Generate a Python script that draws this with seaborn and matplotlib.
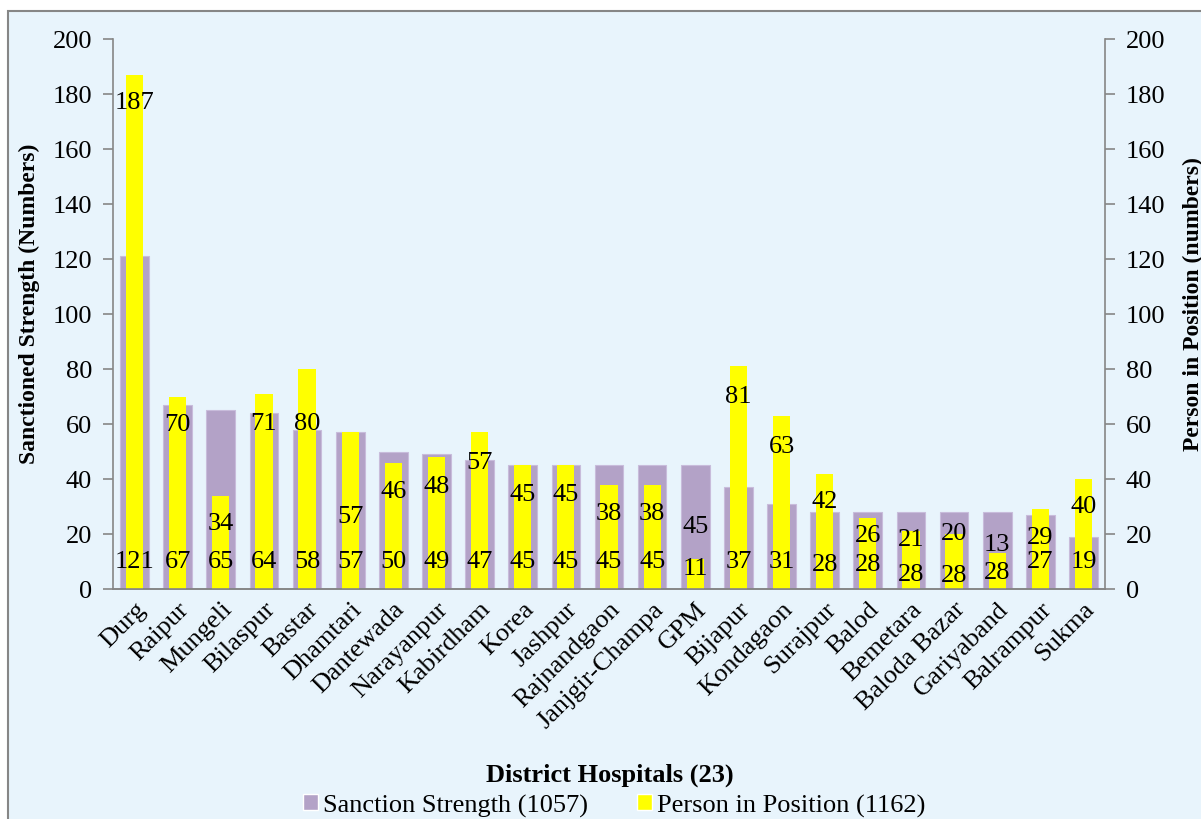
import matplotlib
matplotlib.use('Agg')
import matplotlib.pyplot as plt
from matplotlib.patches import Rectangle, Patch
from matplotlib.ticker import FixedLocator
import numpy as np
import pandas as pd
import seaborn as sns

# dados
districts = ["Durg", "Raipur", "Mungeli", "Bilaspur", "Bastar", "Dhamtari", "Dantewada",
             "Narayanpur", "Kabirdham", "Korea", "Jashpur", "Rajnandgaon", "Janjgir-Champa",
             "GPM", "Bijapur", "Kondagaon", "Surajpur", "Balod", "Bemetara", "Baloda Bazar",
             "Gariyaband", "Balrampur", "Sukma"]
sanction = [121, 67, 65, 64, 58, 57, 50, 49, 47, 45, 45, 45, 45, 45, 37, 31, 28, 28, 28, 28, 28, 27, 19]
in_position = [187, 70, 34, 71, 80, 57, 46, 48, 57, 45, 45, 38, 38, 11, 81, 63, 42, 26, 21, 20, 13, 29, 40]

# onde o Excel deixou os rótulos (centro vertical, em unidades do eixo)
sanction_label_y = [10, 10, 10, 10, 10, 10, 10, 10, 10, 10, 10, 10, 10, 23, 10, 10, 9, 9, 5.5, 5, 6, 10, 10]
position_label_y = [177, 60, 24, 60.5, 60.5, 26.5, 35.5, 37.5, 46, 34.5, 34.5, 27.5, 27.5, 7.5, 70, 52,
                    32, 19.5, 18, 20.5, 16.5, 19, 30]

PURPLE = "#B3A2C7"
YELLOW = "#FFFF00"
BG = "#E8F4FC"
GRAY = "#868686"

df = pd.DataFrame({"district": districts, "sanction": sanction, "position": in_position})

sns.set_style("white")
plt.rcParams['font.family'] = ['Liberation Serif', 'DejaVu Serif']
plt.rcParams.update({'text.color': 'black', 'axes.labelcolor': 'black',
                     'xtick.color': 'black', 'ytick.color': 'black'})

fig = plt.figure(figsize=(12.01, 8.2), dpi=100)
fig.patch.set_facecolor("white")
fig.patches.append(Rectangle((8 / 1201, -0.1), 1.2, 1 - 12 / 820 + 0.1, transform=fig.transFigure,
                             facecolor=BG, edgecolor=GRAY, linewidth=1.5, zorder=-10))

ax = fig.add_axes([113 / 1201, 1 - 590 / 820, (1105 - 113) / 1201, 550 / 820])
ax.set_facecolor("none")
sns.barplot(data=df, x="district", y="sanction", color=PURPLE, saturation=1, width=0.665,
            edgecolor="#C8BCDB", linewidth=0.8, ax=ax)

ax2 = ax.twinx()
sns.barplot(data=df, x="district", y="position", color=YELLOW, saturation=1, width=0.40,
            linewidth=0, ax=ax2)

for a in (ax, ax2):
    a.set_ylim(0, 200)
    a.set_yticks(np.arange(0, 201, 20))
    a.set_xlim(-0.5, len(districts) - 0.5)
    a.spines['top'].set_visible(False)
    for s in a.spines.values():
        s.set_color(GRAY)
        s.set_linewidth(1.2)
    a.tick_params(axis='y', length=7, width=1.2, color=GRAY, labelcolor='black', labelsize=19, pad=8)

ax.spines['right'].set_visible(False)
ax2.spines['left'].set_visible(False)

# marcas do eixo x entre as categorias
ax.xaxis.set_minor_locator(FixedLocator(np.arange(-0.5, len(districts), 1)))
ax.tick_params(axis='x', which='major', length=0, labelsize=19, labelcolor='black', pad=6)
ax.tick_params(axis='x', which='minor', length=7, width=1.2, color=GRAY, direction='out')
ax.set_xticks(range(len(districts)))
ax.set_xticklabels(districts, rotation=45, ha='right', rotation_mode='anchor')

ax.set_xlabel("District Hospitals (23)", fontsize=19, fontweight='bold')
ax.xaxis.set_label_coords(0.501, -0.315)
ax.set_ylabel("Sanctioned Strength (Numbers)", fontsize=17, fontweight='bold')
ax.yaxis.set_label_coords(-0.0736, 0.52)
ax2.set_ylabel("Person in Position (numbers)", fontsize=17, fontweight='bold', rotation=90)
ax2.yaxis.set_label_coords(1.0786, 0.52)
ax2.set_xlabel("")

# rótulos de dados
for i in range(len(districts)):
    ax2.text(i, sanction_label_y[i], str(sanction[i]), ha='center', va='center', fontsize=19)
    ax2.text(i, position_label_y[i], str(in_position[i]), ha='center', va='center', fontsize=19)

handles = [Patch(facecolor=PURPLE, label="Sanction Strength (1057)"),
           Patch(facecolor=YELLOW, label="Person in Position (1162)")]
fig.legend(handles=handles, loc='center', bbox_to_anchor=(614 / 1201, 1 - 806 / 820), ncol=2,
           frameon=False, fontsize=19, handlelength=0.56, handleheight=0.56, handletextpad=0.2,
           columnspacing=1.85, borderpad=0, borderaxespad=0)

plt.savefig("out.png", dpi=100)
